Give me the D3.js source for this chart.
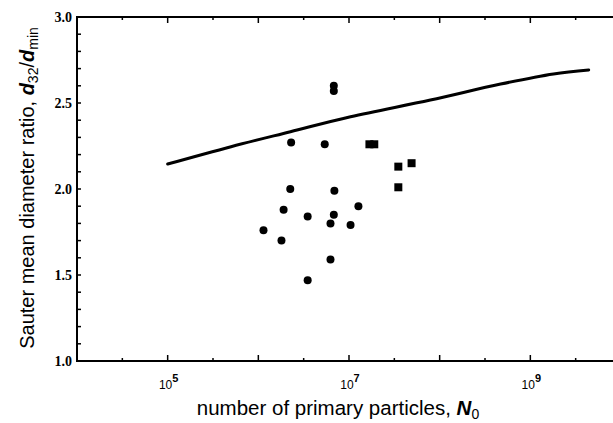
<!DOCTYPE html>
<html>
<head>
<meta charset="utf-8">
<script src="https://cdn.jsdelivr.net/npm/d3@7"></script>
<style>
  body { margin: 0; background: #fff; }
  svg { display: block; }
</style>
</head>
<body>
<svg id="chart"></svg>
<script>
// circles: measured d32/dmin vs N0
const circleN = [6.8e6, 6.8e6, 2.3e6, 5.4e6, 2.25e6, 6.9e6, 1.9e6, 1.27e7,
                 3.5e6, 6.8e6, 6.25e6, 1.04e7, 1.14e6, 1.8e6, 6.25e6, 3.5e6];
const circleD = [2.60, 2.57, 2.27, 2.26, 2.00, 1.99, 1.88, 1.90,
                 1.84, 1.85, 1.80, 1.79, 1.76, 1.70, 1.59, 1.47];

// squares
const squareN = [1.68e7, 1.9e7, 3.5e7, 3.5e7, 4.9e7];
const squareD = [2.26, 2.26, 2.13, 2.01, 2.15];

// model curve
const lineN = [1e5, 5e5, 2.26e6, 1.04e7, 7.9e7, 4.7e8, 1.8e9, 4.4e9];
const lineD = [2.145, 2.246, 2.333, 2.42, 2.517, 2.61, 2.669, 2.692];

const yTickLabels = ["1.0", "1.5", "2.0", "2.5", "3.0"];
const xLabelExps = [5, 7, 9];

const W = 613, H = 423;
const svg = d3.select('#chart').attr('width', W).attr('height', H);

const x = d3.scaleLog().domain([1e4, 1e10]).range([77, 621]);
const y = d3.scaleLinear().domain([1, 3]).range([361, 17]);

// ticks (all inward)
const decades = d3.range(4, 11).map(e => Math.pow(10, e));
const halfDecades = d3.range(4, 10).map(e => Math.pow(10, e + 0.5));
const yMinor = d3.range(1, 3.001, 0.1);
const yMajor = [1, 1.5, 2, 2.5, 3];

const axes = svg.append('g').attr('stroke', '#000').attr('fill', 'none');

// frame
axes.append('rect')
  .attr('x', x.range()[0]).attr('y', y.range()[1])
  .attr('width', x.range()[1] - x.range()[0])
  .attr('height', y.range()[0] - y.range()[1])
  .attr('stroke-width', 2);

// bottom + top ticks
[[y(1), -1], [y(3), 1]].forEach(([yy, dir]) => {
  axes.selectAll(null).data(decades).enter().append('line')
    .attr('x1', d => x(d)).attr('x2', d => x(d))
    .attr('y1', yy).attr('y2', yy + dir * 6)
    .attr('stroke-width', 1.5);
  axes.selectAll(null).data(halfDecades).enter().append('line')
    .attr('x1', d => x(d)).attr('x2', d => x(d))
    .attr('y1', yy).attr('y2', yy + dir * 3)
    .attr('stroke-width', 1.5);
});

// left ticks
axes.selectAll(null).data(yMinor).enter().append('line')
  .attr('x1', x(1e4)).attr('x2', x(1e4) + 4)
  .attr('y1', d => y(d)).attr('y2', d => y(d))
  .attr('stroke-width', 1.5);

// right ticks
axes.selectAll(null).data(yMajor).enter().append('line')
  .attr('x1', x(1e10)).attr('x2', x(1e10) - 8)
  .attr('y1', d => y(d)).attr('y2', d => y(d))
  .attr('stroke-width', 1.5);

// y tick labels
svg.append('g').selectAll('text').data(yMajor).enter().append('text')
  .attr('x', x(1e4) - 5)
  .attr('y', d => y(d))
  .attr('dy', '0.35em')
  .attr('text-anchor', 'end')
  .attr('font-family', 'Liberation Serif')
  .attr('font-weight', 'bold')
  .attr('font-size', 14)
  .text((d, i) => yTickLabels[i]);

// x tick labels 10^n
const xl = svg.append('g').selectAll('text').data(xLabelExps).enter().append('text')
  .attr('x', d => x(Math.pow(10, d)) + 1)
  .attr('y', 389)
  .attr('text-anchor', 'middle')
  .attr('font-family', 'Liberation Sans Narrow, Liberation Sans')
  .attr('font-size', 12);
xl.append('tspan').text('10');
xl.append('tspan').attr('dy', -7).attr('font-size', 11).attr('font-weight', 'bold').text(d => d);

// axis titles
const xt = svg.append('text')
  .attr('x', 338).attr('y', 415)
  .attr('text-anchor', 'middle')
  .attr('font-family', 'Liberation Sans')
  .attr('font-size', 20.5);
xt.append('tspan').text('number of primary particles, ');
xt.append('tspan').attr('font-weight', 'bold').attr('font-style', 'italic').text('N');
xt.append('tspan').attr('dy', 4).attr('font-size', 14).text('0');

const yt = svg.append('text')
  .attr('transform', 'translate(34,188) rotate(-90)')
  .attr('text-anchor', 'middle')
  .attr('font-family', 'Liberation Sans')
  .attr('font-size', 20);
yt.append('tspan').text('Sauter mean diameter ratio, ');
yt.append('tspan').attr('font-weight', 'bold').attr('font-style', 'italic').text('d');
yt.append('tspan').attr('dy', 4).attr('font-size', 14).text('32');
yt.append('tspan').attr('dy', -4).text('/');
yt.append('tspan').attr('font-weight', 'bold').attr('font-style', 'italic').text('d');
yt.append('tspan').attr('dy', 4).attr('font-size', 14).text('min');

// curve
const linePts = lineN.map((n, i) => [n, lineD[i]]);
svg.append('path')
  .datum(linePts)
  .attr('fill', 'none')
  .attr('stroke', '#000')
  .attr('stroke-width', 3)
  .attr('stroke-linecap', 'round')
  .attr('d', d3.line().x(d => x(d[0])).y(d => y(d[1])).curve(d3.curveCatmullRom.alpha(0.5)));

// markers
svg.append('g').selectAll('circle').data(circleN).enter().append('circle')
  .attr('cx', d => x(d))
  .attr('cy', (d, i) => y(circleD[i]))
  .attr('r', 4)
  .attr('fill', '#000');

svg.append('g').selectAll('rect').data(squareN).enter().append('rect')
  .attr('x', d => x(d) - 4)
  .attr('y', (d, i) => y(squareD[i]) - 4)
  .attr('width', 8).attr('height', 8)
  .attr('fill', '#000');
</script>
</body>
</html>
